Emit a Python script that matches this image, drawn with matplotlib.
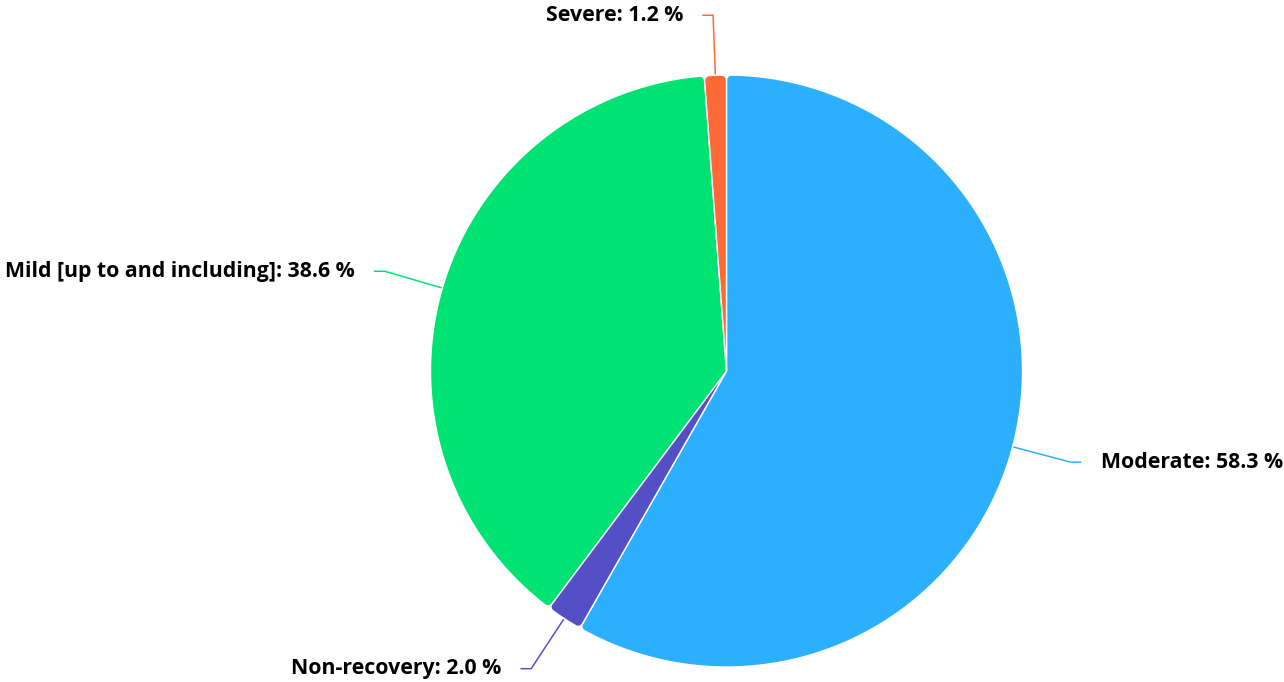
import numpy as np
import matplotlib
matplotlib.use('Agg')
import matplotlib.pyplot as plt
from matplotlib.patches import Polygon

categories = ['Moderate', 'Non-recovery', 'Mild [up to and including]', 'Severe']
values = [58.3, 2.0, 38.6, 1.2]
colors = ['#2caffe', '#544fc5', '#00e272', '#fe6a35']

W, H = 1284, 682
fig = plt.figure(figsize=(W / 100, H / 100), dpi=100)
ax = fig.add_axes([0, 0, 1, 1])
ax.set_xlim(0, W)
ax.set_ylim(H, 0)
ax.axis('off')

cx, cy, R = 726.5, 371.0, 296.0
rad = 5.0
PX = 0.72  # px -> pt at 100 dpi
total = float(sum(values))


def pt(t, r):
    return (cx + r * np.sin(t), cy - r * np.cos(t))


def fillet(tray, sign):
    """Rounded corner between ray at angle tray and the outer arc.
    sign=+1 : slice lies at increasing t from the ray; -1 otherwise.
    Returns points from ray tangent to arc tangent."""
    a = np.arcsin(rad / (R - rad))
    fc = np.array(pt(tray + sign * a, R - rad))
    p_ray = np.array(pt(tray, np.sqrt((R - rad) ** 2 - rad ** 2)))
    p_arc = np.array(pt(tray + sign * a, R))
    a1 = np.arctan2(p_ray[1] - fc[1], p_ray[0] - fc[0])
    a2 = np.arctan2(p_arc[1] - fc[1], p_arc[0] - fc[0])
    da = (a2 - a1 + np.pi) % (2 * np.pi) - np.pi
    angs = a1 + np.linspace(0, 1, 20) * da
    return [(fc[0] + rad * np.cos(q), fc[1] + rad * np.sin(q)) for q in angs], a


font = dict(family=['Open Sans', 'DejaVu Sans'], fontweight='bold', fontsize=15.3, color='black')

t0 = 0.0
for name, v, c in zip(categories, values, colors):
    span = v / total * 2 * np.pi
    t1, t2 = t0, t0 + span
    tm = (t1 + t2) / 2
    f1, a = fillet(t1, +1)
    f2, _ = fillet(t2, -1)
    ts = np.linspace(t1 + a, t2 - a, 300)
    pts = [(cx, cy)] + f1 + [pt(t, R) for t in ts] + f2[::-1]
    poly = Polygon(pts, closed=True, facecolor=c, edgecolor='white',
                   linewidth=1.4 * PX, joinstyle='round', zorder=2)
    ax.add_patch(poly)

    # connector
    p0 = pt(tm, R)
    p1 = pt(tm, R + 60)
    side = 1 if np.sin(tm) > 0 else -1
    p2 = (p1[0] + side * 10, p1[1])
    ax.plot([p0[0], p1[0], p2[0]], [p0[1], p1[1], p2[1]], color=c, lw=1.5 * PX,
            solid_joinstyle='miter', zorder=1)
    tx = p2[0] + side * 20
    ax.text(tx, p2[1], f'{name}: {v:.1f} %', ha='left' if side > 0 else 'right',
            va='center', **font)
    t0 = t2

fig.savefig('out.png', dpi=100)
